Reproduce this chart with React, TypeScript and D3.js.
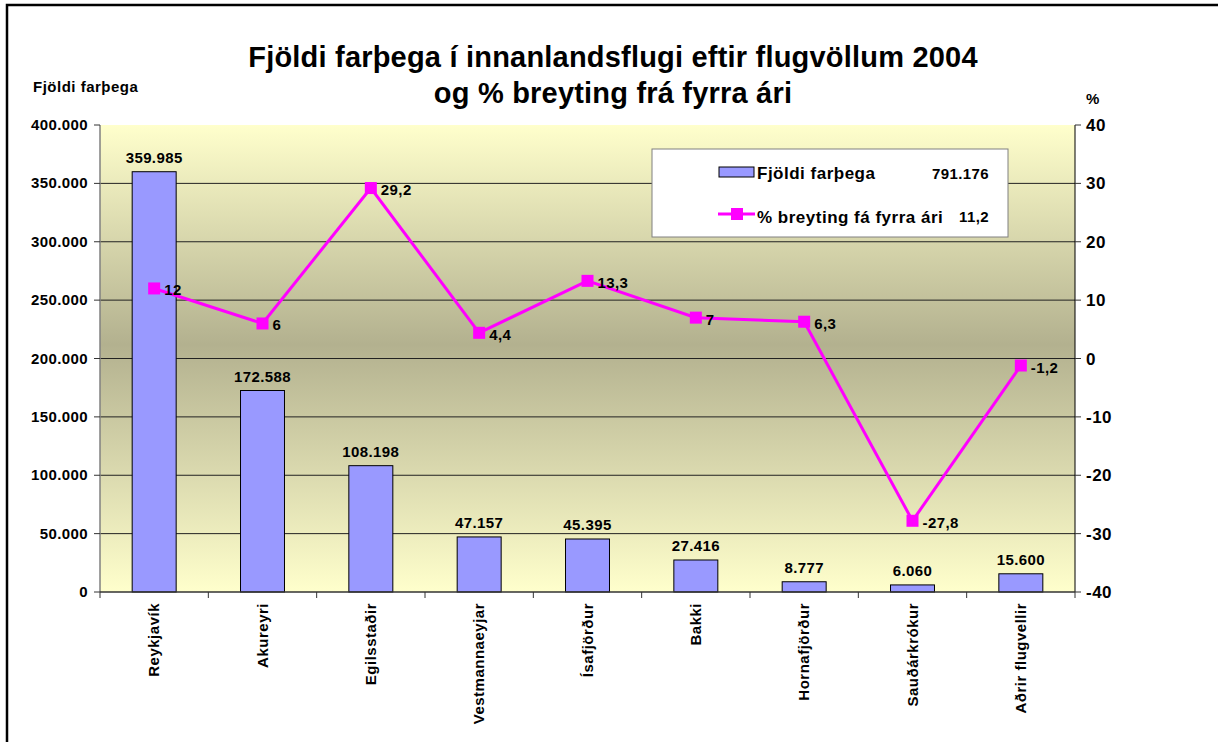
import React, { useEffect, useRef } from 'react';
import * as d3 from 'd3';

const airports = [
  'Reykjavík', 'Akureyri', 'Egilsstaðir', 'Vestmannaeyjar', 'Ísafjörður',
  'Bakki', 'Hornafjörður', 'Sauðárkrókur', 'Aðrir flugvellir',
];
const passengers = [359985, 172588, 108198, 47157, 45395, 27416, 8777, 6060, 15600];
const pctChange = [12, 6, 29.2, 4.4, 13.3, 7, 6.3, -27.8, -1.2];
const totalChange = 11.2;
const leftTicks = [0, 50000, 100000, 150000, 200000, 250000, 300000, 350000, 400000];
const rightTicks = [-40, -30, -20, -10, 0, 10, 20, 30, 40];

const FONT = '"Liberation Sans", Arial, sans-serif';

const App = () => {
  const svgRef = useRef<SVGSVGElement>(null);

  useEffect(() => {
    document.body.style.margin = '0';
    const svg = d3.select(svgRef.current);
    svg.selectAll('*').remove();

    const W = 1218;
    const H = 742;
    const left = 100, right = 1075, top = 125, bottom = 592;

    const loc = d3.formatLocale({ decimal: ',', thousands: '.', grouping: [3], currency: ['', ''], minus: '-' });
    const fmt = loc.format(',');

    const x = d3.scaleBand().domain(airports).range([left, right]).padding(0);
    const yL = d3.scaleLinear().domain([0, 400000]).range([bottom, top]);
    const yR = d3.scaleLinear().domain([-40, 40]).range([bottom, top]);
    const barW = x.bandwidth() * 0.406;
    const cx = (d: string) => (x(d) as number) + x.bandwidth() / 2;

    const txt = (sel: any, size: number, spacing: number) =>
      sel.style('font-family', FONT)
        .style('font-weight', 'bold')
        .style('font-size', `${size}px`)
        .style('letter-spacing', `${spacing}px`)
        .attr('fill', '#000');

    // frame
    svg.append('path')
      .attr('d', `M7,${H} L7,5 L${W},5`)
      .attr('fill', 'none')
      .attr('stroke', '#000')
      .attr('stroke-width', 2.5);

    // background gradient
    const defs = svg.append('defs');
    const grad = defs.append('linearGradient')
      .attr('id', 'bg')
      .attr('x1', 0).attr('y1', 0).attr('x2', 0).attr('y2', 1);
    grad.append('stop').attr('offset', '0%').attr('stop-color', '#FFFFCC');
    grad.append('stop').attr('offset', '47%').attr('stop-color', '#B3B18F');
    grad.append('stop').attr('offset', '100%').attr('stop-color', '#FFFFCC');

    svg.append('rect')
      .attr('x', left).attr('y', top)
      .attr('width', right - left).attr('height', bottom - top)
      .attr('fill', 'url(#bg)');

    // grid lines
    svg.append('g')
      .selectAll('line')
      .data(leftTicks.filter(t => t > 0 && t < 400000))
      .enter()
      .append('line')
      .attr('x1', left).attr('x2', right)
      .attr('y1', d => yL(d)).attr('y2', d => yL(d))
      .attr('stroke', '#222')
      .attr('stroke-width', 1);

    // bars
    svg.append('g')
      .selectAll('rect')
      .data(airports)
      .enter()
      .append('rect')
      .attr('x', (d) => cx(d) - barW / 2)
      .attr('y', (d, i) => yL(passengers[i]))
      .attr('width', barW)
      .attr('height', (d, i) => bottom - yL(passengers[i]))
      .attr('fill', '#9999FF')
      .attr('stroke', '#000')
      .attr('stroke-width', 1);

    // bar labels
    txt(svg.append('g')
      .selectAll('text')
      .data(airports)
      .enter()
      .append('text')
      .attr('x', d => cx(d))
      .attr('y', (d, i) => yL(passengers[i]) - 9)
      .attr('text-anchor', 'middle'), 15, 0.4)
      .text((d, i) => fmt(passengers[i]));

    // axes lines
    svg.append('line')
      .attr('x1', left).attr('x2', left).attr('y1', top).attr('y2', bottom)
      .attr('stroke', '#808080').attr('stroke-width', 1.5);
    svg.append('line')
      .attr('x1', right).attr('x2', right).attr('y1', top).attr('y2', bottom)
      .attr('stroke', '#000').attr('stroke-width', 1);
    svg.append('line')
      .attr('x1', left).attr('x2', right).attr('y1', bottom).attr('y2', bottom)
      .attr('stroke', '#333').attr('stroke-width', 1.5);

    // left axis
    const gl = svg.append('g');
    gl.selectAll('line')
      .data(leftTicks)
      .enter()
      .append('line')
      .attr('x1', left - 6).attr('x2', left)
      .attr('y1', d => yL(d)).attr('y2', d => yL(d))
      .attr('stroke', '#333');
    txt(gl.selectAll('text')
      .data(leftTicks)
      .enter()
      .append('text')
      .attr('x', left - 12)
      .attr('y', d => yL(d) + 5)
      .attr('text-anchor', 'end'), 15, 0.4)
      .text(d => fmt(d));

    // right axis
    const gr = svg.append('g');
    gr.selectAll('line')
      .data(rightTicks)
      .enter()
      .append('line')
      .attr('x1', right).attr('x2', right + 6)
      .attr('y1', d => yR(d)).attr('y2', d => yR(d))
      .attr('stroke', '#333');
    txt(gr.selectAll('text')
      .data(rightTicks)
      .enter()
      .append('text')
      .attr('x', right + 11)
      .attr('y', d => yR(d) + 6), 17, 0.5)
      .text(d => fmt(d));

    // x axis ticks at category boundaries
    const bounds = airports.map(d => x(d) as number).concat([right]);
    svg.append('g')
      .selectAll('line')
      .data(bounds)
      .enter()
      .append('line')
      .attr('x1', d => d).attr('x2', d => d)
      .attr('y1', bottom).attr('y2', bottom + 6)
      .attr('stroke', '#333');

    // x labels
    txt(svg.append('g')
      .selectAll('text')
      .data(airports)
      .enter()
      .append('text')
      .attr('transform', d => `translate(${cx(d) + 5},${bottom + 11}) rotate(-90)`)
      .attr('text-anchor', 'end'), 15, 0.5)
      .text(d => d);

    // percent line
    const line = d3.line<number>()
      .x((d, i) => cx(airports[i]))
      .y(d => yR(d));
    svg.append('path')
      .datum(pctChange)
      .attr('d', line)
      .attr('fill', 'none')
      .attr('stroke', '#FF00FF')
      .attr('stroke-width', 3);

    svg.append('g')
      .selectAll('rect')
      .data(pctChange)
      .enter()
      .append('rect')
      .attr('x', (d, i) => cx(airports[i]) - 6)
      .attr('y', d => yR(d) - 6)
      .attr('width', 12)
      .attr('height', 12)
      .attr('fill', '#FF00FF');

    txt(svg.append('g')
      .selectAll('text')
      .data(pctChange)
      .enter()
      .append('text')
      .attr('x', (d, i) => cx(airports[i]) + 10)
      .attr('y', d => yR(d) + 7), 15, 0.4)
      .text(d => fmt(d));

    // titles
    const title = txt(svg.append('text')
      .attr('text-anchor', 'middle'), 29, 0.2);
    title.append('tspan').attr('x', 613).attr('y', 67)
      .text('Fjöldi farþega í innanlandsflugi eftir flugvöllum 2004');
    title.append('tspan').attr('x', 613).attr('y', 103)
      .text('og % breyting frá fyrra ári');

    txt(svg.append('text')
      .attr('x', 33).attr('y', 92), 15, 0.5)
      .text('Fjöldi farþega');

    txt(svg.append('text')
      .attr('x', 1086).attr('y', 104), 15, 0)
      .text('%');

    // legend
    const lg = svg.append('g').attr('transform', 'translate(652,149)');
    lg.append('rect')
      .attr('x', 0).attr('y', 0).attr('width', 356).attr('height', 88)
      .attr('fill', '#fff')
      .attr('stroke', '#808080')
      .attr('stroke-width', 1);
    lg.append('rect')
      .attr('x', 67).attr('y', 18).attr('width', 35).attr('height', 10)
      .attr('fill', '#9999FF').attr('stroke', '#000').attr('stroke-width', 1);
    txt(lg.append('text')
      .attr('x', 105).attr('y', 30), 17, 0.5)
      .text('Fjöldi farþega');
    txt(lg.append('text')
      .attr('x', 337).attr('y', 30)
      .attr('text-anchor', 'end'), 15, 0.4)
      .text(fmt(d3.sum(passengers)));
    lg.append('line')
      .attr('x1', 66).attr('x2', 103).attr('y1', 65).attr('y2', 65)
      .attr('stroke', '#FF00FF').attr('stroke-width', 3);
    lg.append('rect')
      .attr('x', 79).attr('y', 59).attr('width', 12).attr('height', 12)
      .attr('fill', '#FF00FF');
    txt(lg.append('text')
      .attr('x', 105).attr('y', 74), 17, 0.5)
      .text('% breyting fá fyrra ári');
    txt(lg.append('text')
      .attr('x', 337).attr('y', 73)
      .attr('text-anchor', 'end'), 15, 0.4)
      .text(fmt(totalChange));
  }, []);

  return (
    <svg
      ref={svgRef}
      width={1218}
      height={742}
      style={{ display: 'block', background: '#fff' }}
    />
  );
};

export default App;
